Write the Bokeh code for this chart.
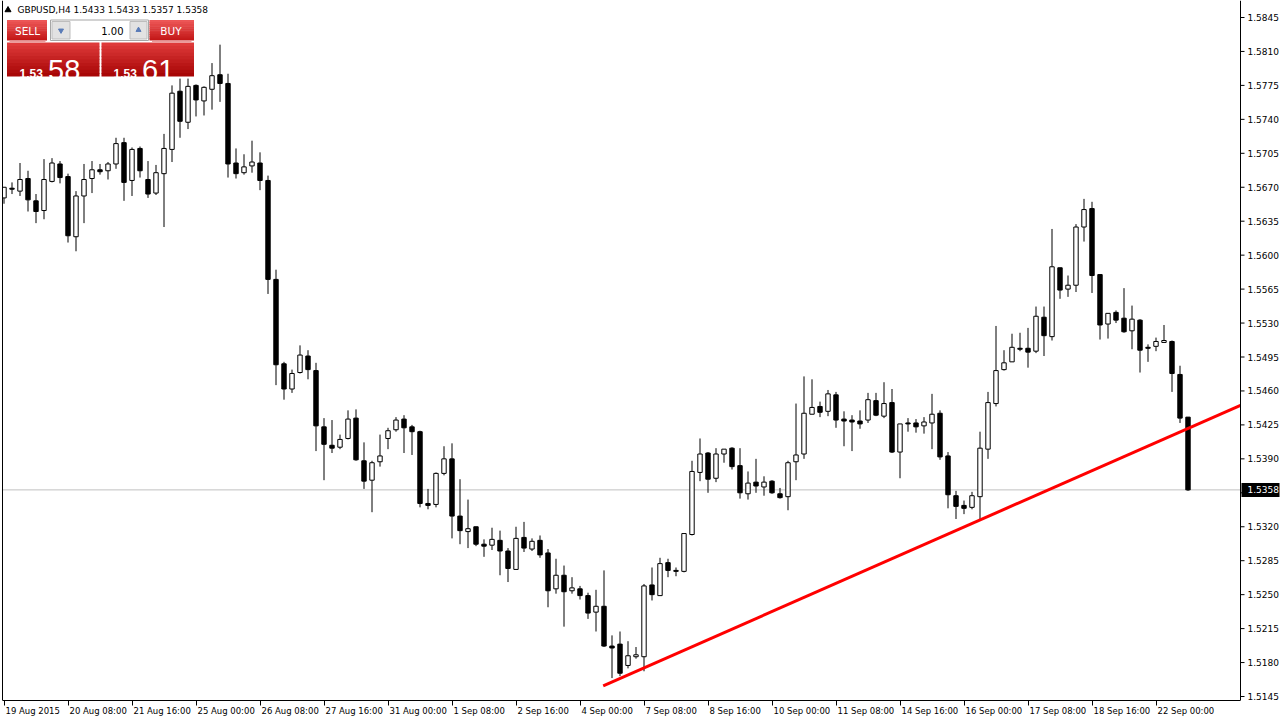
from bokeh.plotting import figure
from bokeh.models import (Range1d, LinearAxis, FixedTicker, Grid,
                          CustomJSTickFormatter, ColumnDataSource)
from bokeh.embed import file_html
from bokeh.resources import INLINE
from bokeh.core.properties import value

# ---------------- data ----------------
symbol = "GBPUSD"
timeframe = "H4"

opens = [1.5659, 1.5669, 1.5666, 1.5679, 1.5656, 1.5646, 1.5676, 1.5694, 1.5681, 1.5619,
         1.5661, 1.5679, 1.5688, 1.5687, 1.5694, 1.5716, 1.5677, 1.5710, 1.5678, 1.5664,
         1.5684, 1.5709, 1.5769, 1.5737, 1.5775, 1.5759, 1.5771, 1.5786, 1.5777, 1.5695,
         1.5685, 1.5692, 1.5695, 1.5677, 1.5575, 1.5488, 1.5462, 1.5479, 1.5496, 1.5481,
         1.5423, 1.5404, 1.5402, 1.5411, 1.5432, 1.5388, 1.5368, 1.5387, 1.5411, 1.5420,
         1.5431, 1.5423, 1.5418, 1.5344, 1.5343, 1.5375, 1.5390, 1.5331, 1.5315, 1.5320,
         1.5302, 1.5301, 1.5306, 1.5295, 1.5276, 1.5309, 1.5297, 1.5306, 1.5293, 1.5256,
         1.5270, 1.5254, 1.5256, 1.5249, 1.5232, 1.5238, 1.5197, 1.5199, 1.5177, 1.5186,
         1.5186, 1.5260, 1.5249, 1.5283, 1.5275, 1.5274, 1.5312, 1.5376, 1.5396, 1.5370,
         1.5395, 1.5401, 1.5383, 1.5354, 1.5366, 1.5361, 1.5367, 1.5354, 1.5351, 1.5387,
         1.5395, 1.5436, 1.5444, 1.5439, 1.5456, 1.5431, 1.5430, 1.5429, 1.5430, 1.5450,
         1.5434, 1.5448, 1.5397, 1.5427, 1.5427, 1.5424, 1.5427, 1.5437, 1.5393, 1.5352,
         1.5342, 1.5340, 1.5351, 1.5400, 1.5447, 1.5482, 1.5490, 1.5504, 1.5504, 1.5501,
         1.5536, 1.5516, 1.5587, 1.5565, 1.5569, 1.5629, 1.5648, 1.5580, 1.5529, 1.5541,
         1.5535, 1.5522, 1.5533, 1.5505, 1.5506, 1.5510, 1.5511, 1.5477, 1.5433]
highs = [1.5670, 1.5675, 1.5695, 1.5687, 1.5663, 1.5699, 1.5700, 1.5697, 1.5684, 1.5666,
         1.5694, 1.5697, 1.5694, 1.5696, 1.5721, 1.5721, 1.5711, 1.5712, 1.5697, 1.5693,
         1.5725, 1.5775, 1.5782, 1.5782, 1.5776, 1.5774, 1.5798, 1.5817, 1.5787, 1.5710,
         1.5704, 1.5718, 1.5706, 1.5682, 1.5585, 1.5490, 1.5482, 1.5507, 1.5502, 1.5489,
         1.5432, 1.5430, 1.5415, 1.5440, 1.5441, 1.5407, 1.5388, 1.5415, 1.5422, 1.5433,
         1.5435, 1.5425, 1.5419, 1.5359, 1.5376, 1.5403, 1.5406, 1.5369, 1.5348, 1.5320,
         1.5307, 1.5319, 1.5316, 1.5298, 1.5320, 1.5325, 1.5308, 1.5311, 1.5297, 1.5287,
         1.5280, 1.5268, 1.5259, 1.5252, 1.5255, 1.5275, 1.5208, 1.5212, 1.5202, 1.5196,
         1.5261, 1.5278, 1.5288, 1.5287, 1.5278, 1.5313, 1.5388, 1.5411, 1.5397, 1.5401,
         1.5400, 1.5402, 1.5401, 1.5377, 1.5390, 1.5372, 1.5368, 1.5360, 1.5388, 1.5447,
         1.5475, 1.5472, 1.5449, 1.5461, 1.5459, 1.5439, 1.5435, 1.5440, 1.5458, 1.5458,
         1.5469, 1.5462, 1.5426, 1.5432, 1.5431, 1.5433, 1.5457, 1.5440, 1.5397, 1.5357,
         1.5347, 1.5356, 1.5418, 1.5459, 1.5527, 1.5502, 1.5519, 1.5520, 1.5525, 1.5547,
         1.5547, 1.5627, 1.5587, 1.5579, 1.5632, 1.5658, 1.5655, 1.5580, 1.5540, 1.5543,
         1.5566, 1.5548, 1.5534, 1.5508, 1.5515, 1.5528, 1.5512, 1.5486, 1.5433]
lows = [1.5653, 1.5663, 1.5661, 1.5645, 1.5633, 1.5637, 1.5675, 1.5674, 1.5613, 1.5604,
        1.5633, 1.5664, 1.5683, 1.5678, 1.5689, 1.5656, 1.5661, 1.5680, 1.5659, 1.5662,
        1.5629, 1.5696, 1.5721, 1.5730, 1.5743, 1.5744, 1.5750, 1.5758, 1.5680, 1.5679,
        1.5683, 1.5685, 1.5667, 1.5560, 1.5466, 1.5451, 1.5458, 1.5478, 1.5472, 1.5398,
        1.5368, 1.5396, 1.5400, 1.5410, 1.5388, 1.5359, 1.5335, 1.5382, 1.5400, 1.5418,
        1.5396, 1.5394, 1.5340, 1.5338, 1.5340, 1.5373, 1.5308, 1.5302, 1.5298, 1.5300,
        1.5289, 1.5296, 1.5270, 1.5263, 1.5276, 1.5294, 1.5295, 1.5288, 1.5237, 1.5251,
        1.5217, 1.5251, 1.5245, 1.5225, 1.5212, 1.5196, 1.5164, 1.5166, 1.5174, 1.5184,
        1.5171, 1.5244, 1.5249, 1.5268, 1.5269, 1.5273, 1.5311, 1.5367, 1.5355, 1.5366,
        1.5386, 1.5379, 1.5349, 1.5348, 1.5355, 1.5352, 1.5354, 1.5349, 1.5337, 1.5368,
        1.5390, 1.5436, 1.5433, 1.5434, 1.5422, 1.5403, 1.5398, 1.5421, 1.5427, 1.5434,
        1.5432, 1.5396, 1.5370, 1.5418, 1.5417, 1.5416, 1.5400, 1.5389, 1.5339, 1.5328,
        1.5333, 1.5338, 1.5327, 1.5390, 1.5444, 1.5481, 1.5490, 1.5501, 1.5484, 1.5499,
        1.5496, 1.5512, 1.5555, 1.5557, 1.5562, 1.5614, 1.5561, 1.5513, 1.5514, 1.5530,
        1.5520, 1.5503, 1.5479, 1.5490, 1.5501, 1.5510, 1.5459, 1.5427, 1.5357]
closes = [1.5670, 1.5668, 1.5678, 1.5657, 1.5645, 1.5678, 1.5695, 1.5680, 1.5620, 1.5661,
          1.5678, 1.5688, 1.5686, 1.5694, 1.5715, 1.5675, 1.5709, 1.5687, 1.5663, 1.5685,
          1.5710, 1.5767, 1.5738, 1.5774, 1.5760, 1.5773, 1.5785, 1.5777, 1.5694, 1.5684,
          1.5691, 1.5696, 1.5677, 1.5575, 1.5487, 1.5462, 1.5478, 1.5497, 1.5482, 1.5424,
          1.5405, 1.5401, 1.5410, 1.5431, 1.5389, 1.5367, 1.5386, 1.5393, 1.5419, 1.5430,
          1.5422, 1.5418, 1.5344, 1.5342, 1.5375, 1.5390, 1.5331, 1.5316, 1.5318, 1.5302,
          1.5300, 1.5307, 1.5295, 1.5277, 1.5308, 1.5298, 1.5305, 1.5291, 1.5254, 1.5270,
          1.5253, 1.5257, 1.5249, 1.5231, 1.5238, 1.5197, 1.5195, 1.5169, 1.5187, 1.5188,
          1.5259, 1.5250, 1.5282, 1.5275, 1.5274, 1.5313, 1.5377, 1.5395, 1.5369, 1.5395,
          1.5400, 1.5382, 1.5355, 1.5365, 1.5362, 1.5366, 1.5355, 1.5350, 1.5386, 1.5394,
          1.5437, 1.5443, 1.5438, 1.5457, 1.5430, 1.5429, 1.5428, 1.5426, 1.5451, 1.5435,
          1.5447, 1.5397, 1.5426, 1.5426, 1.5423, 1.5428, 1.5436, 1.5392, 1.5353, 1.5341,
          1.5339, 1.5352, 1.5401, 1.5448, 1.5481, 1.5489, 1.5505, 1.5503, 1.5500, 1.5537,
          1.5517, 1.5588, 1.5564, 1.5569, 1.5629, 1.5647, 1.5579, 1.5528, 1.5540, 1.5533,
          1.5521, 1.5534, 1.5502, 1.5504, 1.5511, 1.5512, 1.5478, 1.5432, 1.5358]

date_labels = ["19 Aug 2015", "20 Aug 08:00", "21 Aug 16:00", "25 Aug 00:00", "26 Aug 08:00",
               "27 Aug 16:00", "31 Aug 00:00", "1 Sep 08:00", "2 Sep 16:00", "4 Sep 00:00",
               "7 Sep 08:00", "8 Sep 16:00", "10 Sep 00:00", "11 Sep 08:00", "14 Sep 16:00",
               "16 Sep 00:00", "17 Sep 08:00", "18 Sep 16:00", "22 Sep 00:00"]
bars_per_label = 8

price_ticks = [1.5145, 1.5180, 1.5215, 1.5250, 1.5285, 1.5320, 1.5355, 1.5390, 1.5425,
               1.5460, 1.5495, 1.5530, 1.5565, 1.5600, 1.5635, 1.5670, 1.5705, 1.5740,
               1.5775, 1.5810, 1.5845]

# trend line: two anchor points, drawn as a ray to the right edge of the chart
trend_bars = [74.9, 122.0]
trend_prices = [1.5156, 1.5327]

lot_size = "1.00"
sell_big, buy_big, price_head = "58", "61", "1.53"

# ---------------- layout helpers (reference pixel -> data) ----------------
def bx(px):
    return (px - 3.5) / 8.0

def py(px):
    return 1.5845 - (px - 17) / 9700.0

FONT = "DejaVu Sans"
FW, FH = 1281, 700
x0, x1 = bx(0), bx(1281)
y0, y1 = py(700), py(0)
XB = bx(1240)          # right border of the chart area
XL = bx(2)             # left border

p = figure(frame_width=FW, frame_height=FH, output_backend="svg", toolbar_location=None,
           x_range=Range1d(x0, x1), y_range=Range1d(y0, y1),
           x_axis_location=None, y_axis_location=None, min_border=0)
p.center = [r for r in p.center if not isinstance(r, Grid)]
p.outline_line_color = None
p.background_fill_color = "white"
p.border_fill_color = "white"

# current price line (behind candles)
p.segment([XL], [closes[-1]], [XB], [closes[-1]], line_color="#c0c0c0", line_width=1)

n = len(opens)
idx = list(range(n))
up = [c >= o for o, c in zip(opens, closes)]
src = ColumnDataSource(dict(
    x=idx, o=opens, h=highs, l=lows, c=closes,
    top=[max(o, c) for o, c in zip(opens, closes)],
    bot=[min(o, c) for o, c in zip(opens, closes)],
    fill=["white" if u else "black" for u in up]))

p.segment(x0="x", y0="h", x1="x", y1="l", source=src, line_color="black", line_width=1)
p.vbar(x="x", width=0.55, top="top", bottom="bot", source=src,
       fill_color="fill", line_color="black", line_width=1)

# trend line (ray to the right border)
slope = (trend_prices[1] - trend_prices[0]) / (trend_bars[1] - trend_bars[0])
p.line([trend_bars[0], XB], [trend_prices[0], trend_prices[0] + slope * (XB - trend_bars[0])],
       line_color="#ff0000", line_width=3)

# mask outside chart area on the left, borders
p.quad(left=[x0], right=[XL], top=[y1], bottom=[y0], fill_color="white", line_color=None)
p.segment([XL, XB], [y0, y0], [XL, XB], [y1, y1], line_color="black", line_width=1)

# ---------------- price scale (right) ----------------
p.segment([XB] * len(price_ticks), price_ticks, [bx(1244)] * len(price_ticks), price_ticks,
          line_color="black", line_width=1)
p.text([bx(1247)] * len(price_ticks), price_ticks, text=[f"{t:.4f}" for t in price_ticks],
       text_align="left", text_baseline="middle", text_font=value(FONT),
       text_font_size=value("9px"), text_color="black")
half = 7 / 9700.0
p.quad(left=[bx(1241)], right=[bx(1279)], top=[closes[-1] + half], bottom=[closes[-1] - half],
       fill_color="black", line_color=None)
p.text([bx(1247)], [closes[-1]], text=[f"{closes[-1]:.4f}"], text_align="left",
       text_baseline="middle", text_font=value(FONT), text_font_size=value("9px"),
       text_color="white")

# ---------------- time scale (bottom axis) ----------------
DSZ = 8.5
px_per_bar = FW / (x1 - x0)
cw = {d: 0.636 for d in "0123456789"}
cw.update({" ": 0.318, ":": 0.337, "A": 0.684, "u": 0.634, "g": 0.635, "S": 0.635,
           "e": 0.615, "p": 0.635})
def text_w(s, size=DSZ):
    return sum(cw.get(ch, 0.6) for ch in s) * size

tick_bars = [i * bars_per_label for i in range(len(date_labels))]
label_pos = [tb + (1.5 + text_w(lbl) / 2) / px_per_bar for tb, lbl in zip(tick_bars, date_labels)]

xaxis = LinearAxis(
    ticker=FixedTicker(ticks=label_pos, minor_ticks=tick_bars),
    formatter=CustomJSTickFormatter(args=dict(pos=label_pos, labels=date_labels), code="""
        const i = pos.findIndex(v => Math.abs(v - tick) < 1e-6);
        return i >= 0 ? labels[i] : "";
    """),
    bounds=(XL, XB),
    major_tick_line_color=None, major_tick_out=4, major_tick_in=0,
    minor_tick_line_color="black", minor_tick_out=5, minor_tick_in=0,
    axis_line_color="black", major_label_standoff=0,
    major_label_text_font=FONT, major_label_text_font_size=f"{DSZ}px",
    major_label_text_color="black")
p.add_layout(xaxis, "below")

# ---------------- header ----------------
header = f"{symbol},{timeframe} {opens[-1]:.4f} {highs[-1]:.4f} {lows[-1]:.4f} {closes[-1]:.4f}"
p.scatter([bx(7.5)], [py(9.5)], marker="triangle", size=6, color="black")
p.text([bx(17)], [py(9.5)], text=[header], text_baseline="middle", text_align="left",
       text_font=value(FONT), text_font_size=value("9px"), text_color="black")

# ---------------- trade panel ----------------
def hx(c):
    return tuple(int(c[i:i + 2], 16) for i in (1, 3, 5))

def mix(c1, c2, t):
    a, b = hx(c1), hx(c2)
    return "#%02x%02x%02x" % tuple(round(a[i] + (b[i] - a[i]) * t) for i in range(3))

Q = dict(left=[], right=[], top=[], bottom=[], color=[])
def grad(xa, xb, ya, yb, ct, cb, nb=10):
    for i in range(nb):
        t = i / (nb - 1)
        y_a = ya + (yb - ya) * i / nb
        y_b = ya + (yb - ya) * (i + 1) / nb + (0.6 if i < nb - 1 else 0)
        Q["left"].append(bx(xa)); Q["right"].append(bx(xb))
        Q["top"].append(py(y_a)); Q["bottom"].append(py(y_b))
        Q["color"].append(mix(ct, cb, t))

grad(6.5, 46.5, 19.5, 40, "#ec5656", "#c41818")      # SELL
grad(149, 193.5, 19.5, 40, "#ec5656", "#c41818")     # BUY
grad(6.5, 99, 42, 76, "#de3a3a", "#a80606")          # sell price
grad(101, 193.5, 42, 76, "#de3a3a", "#a80606")       # buy price
p.quad(left="left", right="right", top="top", bottom="bottom", fill_color="color",
       line_color=None, source=ColumnDataSource(Q))

p.segment([bx(9), bx(151.5)], [py(41), py(41)], [bx(45), bx(191)], [py(41), py(41)],
          line_color="#e99a9a", line_width=1)

# lot box
p.quad(left=[bx(50)], right=[bx(148)], top=[py(19.5)], bottom=[py(40)],
       fill_color="white", line_color="#a6a6a6", line_width=1)
p.quad(left=[bx(51.5), bx(129.5)], right=[bx(69.5), bx(146.5)],
       top=[py(21), py(21)], bottom=[py(38.5), py(38.5)],
       fill_color="#e2e2e2", line_color="#bdbdbd", line_width=1)
p.scatter([bx(60.5)], [py(30)], marker="inverted_triangle", size=5, color="#5a7cb8")
p.scatter([bx(138)], [py(29.5)], marker="triangle", size=5, color="#5a7cb8")
p.text([bx(123)], [py(30)], text=[lot_size], text_align="right", text_baseline="middle",
       text_font=value(FONT), text_font_size=value("10px"), text_color="black")

p.text([bx(27), bx(170.5)], [py(30), py(30)], text=["SELL", "BUY"], text_align="center",
       text_baseline="middle", text_font=value(FONT), text_font_size=value("10.5px"),
       text_color="white")
p.text([bx(19), bx(113)], [py(72.5), py(72.5)], text=[price_head, price_head],
       text_align="left", text_baseline="alphabetic", text_font=value("Liberation Sans"),
       text_font_size=value("12px"), text_font_style="bold", text_color="white")
p.text([bx(47.5), bx(141.5)], [py(69), py(69)], text=[sell_big, buy_big],
       text_align="left", text_baseline="alphabetic", text_font=value("Liberation Sans"),
       text_font_size=value("29px"), text_color="white")

open("out.html", "w").write(file_html(p, INLINE))
